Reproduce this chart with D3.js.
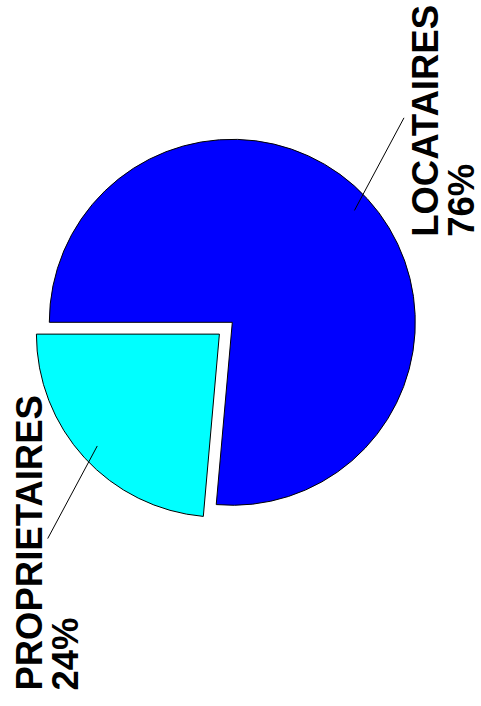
<!DOCTYPE html>
<html>
<head>
<meta charset="utf-8">
<script src="https://d3js.org/d3.v7.min.js"></script>
<style>
body { margin: 0; background: #fff; }
.slice { stroke: #000; stroke-width: 1; }
.leader { stroke: #000; stroke-width: 1; fill: none; }
.plabel { font-family: "Liberation Sans", Arial, sans-serif; font-weight: bold; font-size: 36.5px; fill: #000; }
</style>
</head>
<body>
<svg id="chart" width="481" height="706"></svg>
<script>
var categories = ['LOCATAIRES', 'PROPRIETAIRES'];
var shares = [76.4, 23.6];
var colors = ['#0000ff', '#00ffff'];
var exploded = [false, true];

var WIDTH = 481, HEIGHT = 706;
var cx = 232.3, cy = 322.3, radius = 183;
var explode_dist = 17.5;
var leader_in = 0.905, leader_out = 267, leader_turn = -7.5 * Math.PI / 180;
var line_height = 36.5;
// label start (bottom of the rotated text) relative to the leader's outer end
var label_off = [[34, 119], [-6, 152]];

var svg = d3.select('#chart');
var pct = d3.format('.0f');

var data = categories.map(function (c, i) {
	return {name: c, value: shares[i], color: colors[i], explode: exploded[i], idx: i};
});

var pie = d3.pie()
	.sort(null)
	.value(function (d) { return d.value; })
	.startAngle(-Math.PI / 2)
	.endAngle(3 * Math.PI / 2);

var arc = d3.arc().innerRadius(0).outerRadius(radius);

var arcs = pie(data);

var polar = function (a, r) { return [Math.sin(a) * r, -Math.cos(a) * r]; };

var g = svg.selectAll('.sg').data(arcs).enter().append('g')
	.attr('class', 'sg')
	.attr('transform', function (d) {
		var mid = (d.startAngle + d.endAngle) / 2;
		var off = d.data.explode ? polar(mid, explode_dist) : [0, 0];
		return 'translate(' + (cx + off[0]) + ',' + (cy + off[1]) + ')';
	});

g.append('path')
	.attr('class', 'slice')
	.attr('d', arc)
	.attr('fill', function (d) { return d.data.color; });

g.each(function (d) {
	var sel = d3.select(this);
	var mid = (d.startAngle + d.endAngle) / 2;
	var p1 = polar(mid, radius * leader_in);
	var p2 = polar(mid + leader_turn, leader_out);

	sel.append('line').attr('class', 'leader')
		.attr('x1', p1[0]).attr('y1', p1[1])
		.attr('x2', p2[0]).attr('y2', p2[1]);

	var off = label_off[d.data.idx];
	var txt = sel.append('text').attr('class', 'plabel')
		.attr('transform', 'translate(' + (p2[0] + off[0]) + ',' + (p2[1] + off[1]) + ') rotate(-90)');
	txt.append('tspan').attr('x', 0).attr('dy', 0).text(d.data.name);
	txt.append('tspan').attr('x', 0).attr('dy', line_height).text(pct(d.data.value) + '%');
});
</script>
</body>
</html>
